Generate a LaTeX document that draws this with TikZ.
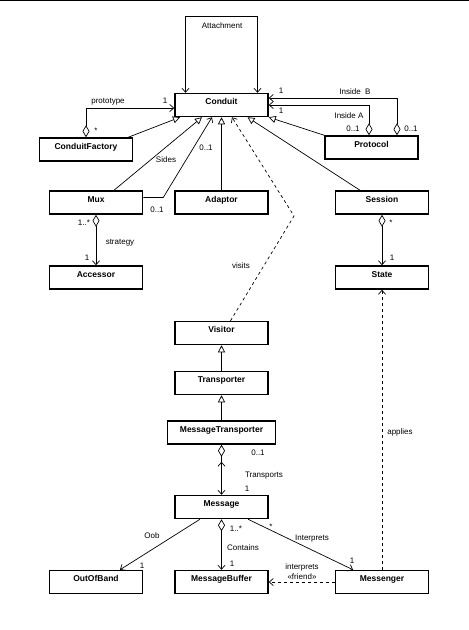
\documentclass[tikz,border=0pt]{standalone}
\usepackage{fontspec}
\setmainfont{Liberation Sans}
\usetikzlibrary{arrows.meta}

\tikzset{
  cls/.style={draw, line width=1.5pt, minimum width=93pt, minimum height=23pt,
    inner ysep=0pt, text height=11pt, text depth=12pt,
    font=\fontsize{8.5}{9}\selectfont\bfseries},
  lbl/.style={font=\fontsize{8}{9}\selectfont, inner sep=0pt},
  link/.style={line width=0.7pt},
  nav/.style={link, -{Straight Barb[length=4pt, width=7pt]}},
  gen/.style={link, -{Triangle[open, length=7pt, width=7pt]}},
  agg/.style={link, {Diamond[open, length=12pt, width=7pt]}-{Straight Barb[length=4pt, width=7pt]}},
  dep/.style={nav, dash pattern=on 3pt off 3pt},
}

\begin{document}
\begin{tikzpicture}[x=1pt, y=-1pt]
            \useasboundingbox (0,0) rectangle (469,630);
            \draw[line width=1pt] (0,0.5) -- (469,0.5);

            % classes
            \node[cls] (conduit) at (221.5,105) {Conduit};
            \node[cls] (factory) at (86,149.5) {ConduitFactory};
            \node[cls] (protocol) at (371.5,147.5) {Protocol};
            \node[cls] (mux) at (96,202.5) {Mux};
            \node[cls] (adaptor) at (221.5,202.5) {Adaptor};
            \node[cls] (session) at (382,202.5) {Session};
            \node[cls] (accessor) at (96,277.5) {Accessor};
            \node[cls] (state) at (382,277.5) {State};
            \node[cls] (visitor) at (221.5,333) {Visitor};
            \node[cls] (transporter) at (221.5,383) {Transporter};
            \node[cls, minimum width=108pt] (msgtrans) at (221.5,432.5) {MessageTransporter};
            \node[cls] (message) at (221.5,507) {Message};
            \node[cls] (oob) at (96,582) {OutOfBand};
            \node[cls] (msgbuf) at (221.5,582) {MessageBuffer};
            \node[cls] (messenger) at (382,582) {Messenger};
            \coordinate (visitbend) at (294,216);

            % associations around Conduit
            \draw[link, {Straight Barb[length=4pt, width=7pt]}-{Straight Barb[length=4pt, width=7pt]}]
                ([xshift=-36pt]conduit.north) -- ++(0,-76) -| ([xshift=36pt]conduit.north);
            \draw[agg] (factory.north) |- ([yshift=-3pt]conduit.west);
            \draw[agg] ([xshift=25.5pt]protocol.north) |- ([yshift=7pt]conduit.east);
            \draw[agg] ([xshift=-2.5pt]protocol.north) |- (conduit.east);
            \draw[nav] ([yshift=5pt]mux.east) -- ++(20,0) -- ([xshift=-9.5pt]conduit.south);
            \draw[dep] ([xshift=9pt]visitor.north) -- (visitbend) -- ([xshift=10.5pt]conduit.south);

            % generalizations
            \draw[gen] ([xshift=-5pt]factory.north east) -- ([xshift=-41.5pt]conduit.south);
            \draw[gen] ([xshift=18pt]mux.north) -- ([xshift=-19.5pt]conduit.south);
            \draw[gen] (adaptor.north) -- (conduit.south);
            \draw[gen] ([xshift=-22pt]session.north) -- ([xshift=26pt]conduit.south);
            \draw[gen] (protocol.north west) -- (conduit.south east);
            \draw[gen] (transporter.north) -- (visitor.south);
            \draw[gen] (msgtrans.north) -- (transporter.south);

            % the rest
            \draw[agg] (mux.south) -- (accessor.north);
            \draw[agg] (session.south) -- (state.north);
            \draw[dep] (messenger.north) -- (state.south);
            \draw[agg] (msgtrans.south) -- (message.north);
            \draw[nav] ([yshift=-22pt]msgtrans.south) -- ([yshift=-17pt]msgtrans.south);
            \draw[nav] ([xshift=-21.5pt]message.south) -- ([xshift=24pt]oob.north);
            \draw[agg] (message.south) -- (msgbuf.north);
            \draw[nav] ([xshift=26.5pt]message.south) -- ([xshift=-29pt]messenger.north);
            \draw[dep] (messenger.west) -- (msgbuf.east);

            % labels
            \node[lbl] (lattach) at (222,26) {Attachment};
            \node[lbl] (lproto) at (108,102) {prototype};
            \node[lbl] (lproto1) at (165,101) {1};
            \node[lbl] (lprotos) at (96,131) {*};
            \node[lbl] (linb) at (355,92) {Inside\ \ B};
            \node[lbl] (linb1) at (281,91) {1};
            \node[lbl] (linbn) at (411,129) {0..1};
            \node[lbl] (lina) at (349,116) {Inside A};
            \node[lbl] (lina1) at (281,111) {1};
            \node[lbl] (linan) at (353,129) {0..1};
            \node[lbl] (lsides) at (166,160) {Sides};
            \node[lbl] (lside1) at (206,148) {0..1};
            \node[lbl] (lside2) at (157,210) {0..1};
            \node[lbl] (lvisits) at (241,266) {visits};
            \node[lbl] (lstrat) at (120,243) {strategy};
            \node[lbl] (lstratn) at (84,223) {1..*};
            \node[lbl] (lstrat1) at (87,258) {1};
            \node[lbl] (lstates) at (391,223) {*};
            \node[lbl] (lstate1) at (392,258) {1};
            \node[lbl] (lapplies) at (400,432) {applies};
            \node[lbl] (ltransn) at (258,453) {0..1};
            \node[lbl] (ltrans) at (264,476) {Transports};
            \node[lbl] (ltrans1) at (247,489) {1};
            \node[lbl] (loob) at (152,536) {Oob};
            \node[lbl] (loob1) at (142,566) {1};
            \node[lbl] (lcontn) at (236,529) {1..*};
            \node[lbl] (lcont) at (243,548) {Contains};
            \node[lbl] (lcont1) at (232,564) {1};
            \node[lbl] (linters) at (271,527) {*};
            \node[lbl] (linter) at (312,539) {Interprets};
            \node[lbl] (linter1) at (352,561) {1};
            \node[lbl] (lfriend) at (302,567) {interprets};
            \node[lbl] (lfriend2) at (302,577) {«friend»};
        \end{tikzpicture}
\end{document}
